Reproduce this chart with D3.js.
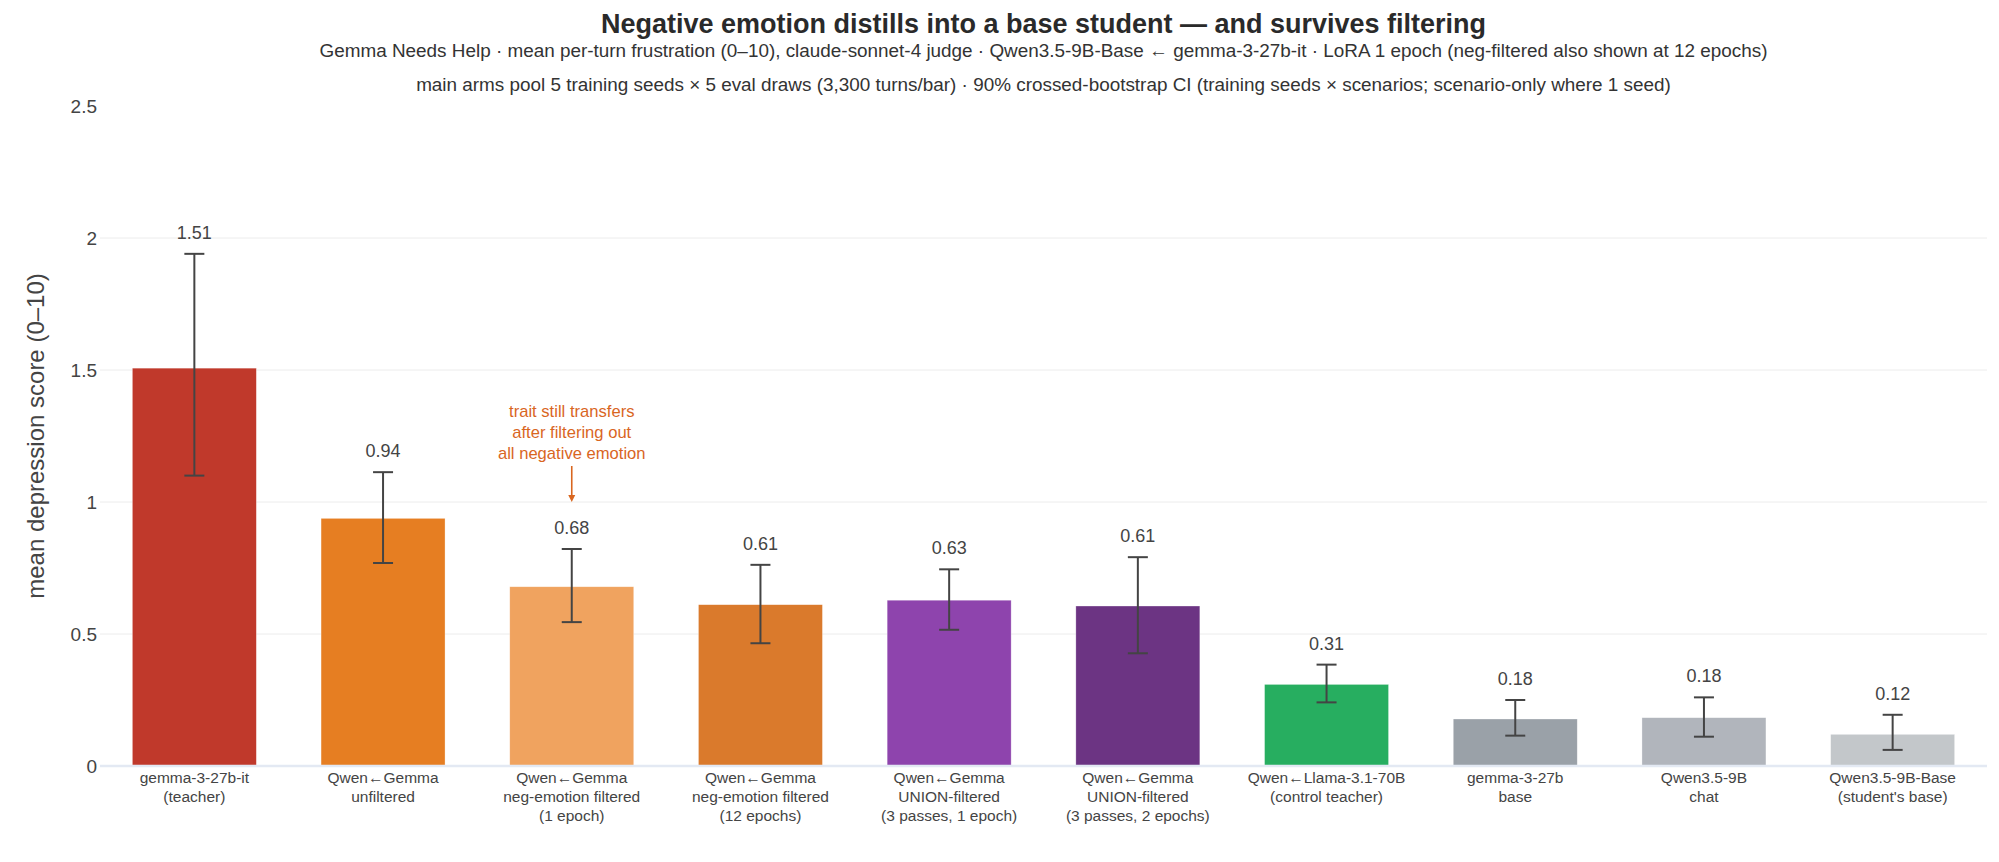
<!DOCTYPE html>
<html>
<head>
<meta charset="utf-8">
<script src="https://cdn.jsdelivr.net/npm/d3@7"></script>
<style>
  body { margin: 0; background: #fff; }
  svg { display: block; font-family: "Liberation Sans", Arial, sans-serif; }
</style>
</head>
<body>
<script>
// chart data
const categories = [
  ["gemma-3-27b-it", "(teacher)"],
  ["Qwen\u2190Gemma", "unfiltered"],
  ["Qwen\u2190Gemma", "neg-emotion filtered", "(1 epoch)"],
  ["Qwen\u2190Gemma", "neg-emotion filtered", "(12 epochs)"],
  ["Qwen\u2190Gemma", "UNION-filtered", "(3 passes, 1 epoch)"],
  ["Qwen\u2190Gemma", "UNION-filtered", "(3 passes, 2 epochs)"],
  ["Qwen\u2190Llama-3.1-70B", "(control teacher)"],
  ["gemma-3-27b", "base"],
  ["Qwen3.5-9B", "chat"],
  ["Qwen3.5-9B-Base", "(student's base)"]
];
const values = [1.507, 0.938, 0.679, 0.611, 0.628, 0.606, 0.309, 0.178, 0.183, 0.12];
const ciLow  = [1.10, 0.769, 0.545, 0.465, 0.516, 0.427, 0.241, 0.115, 0.111, 0.061];
const ciHigh = [1.94, 1.113, 0.822, 0.762, 0.745, 0.791, 0.384, 0.25, 0.26, 0.194];
const barColors = ["#c0392b", "#e67e22", "#f0a35f", "#da7a2c", "#8e44ad",
                   "#6c3483", "#27ae60", "#9aa1a8", "#b1b5bc", "#c3c7ca"];
const yTicks = [0, 0.5, 1, 1.5, 2, 2.5];

const title = "Negative emotion distills into a base student \u2014 and survives filtering";
const subtitle1 = "Gemma Needs Help \u00b7 mean per-turn frustration (0\u201310), claude-sonnet-4 judge \u00b7 Qwen3.5-9B-Base \u2190 gemma-3-27b-it \u00b7 LoRA 1 epoch (neg-filtered also shown at 12 epochs)";
const subtitle2 = "main arms pool 5 training seeds \u00d7 5 eval draws (3,300 turns/bar) \u00b7 90% crossed-bootstrap CI (training seeds \u00d7 scenarios; scenario-only where 1 seed)";
const noteLines = ["trait still transfers", "after filtering out", "all negative emotion"];
const noteBar = 2;
const noteValue = 1.0;

const width = 1999, height = 862;
const margin = {top: 106, right: 12, bottom: 96, left: 100};
const plotW = width - margin.left - margin.right;
const plotH = height - margin.top - margin.bottom;

const svg = d3.select("body").append("svg")
  .attr("width", width)
  .attr("height", height);

const x = d3.scaleBand()
  .domain(d3.range(categories.length))
  .range([margin.left, margin.left + plotW])
  .paddingInner(0.343)
  .paddingOuter(0.1715);

const y = d3.scaleLinear()
  .domain([0, 2.5])
  .range([margin.top + plotH, margin.top]);

// titles
const cx = margin.left + plotW / 2;
svg.append("text")
  .attr("x", cx).attr("y", 33)
  .attr("text-anchor", "middle")
  .attr("font-size", 27).attr("font-weight", "bold")
  .attr("fill", "#2a2a2a")
  .text(title);
svg.append("text")
  .attr("x", cx).attr("y", 56.5)
  .attr("text-anchor", "middle")
  .attr("font-size", 18.9).attr("fill", "#333")
  .text(subtitle1);
svg.append("text")
  .attr("x", cx).attr("y", 90.5)
  .attr("text-anchor", "middle")
  .attr("font-size", 18.9).attr("fill", "#333")
  .text(subtitle2);

// grid
svg.append("g")
  .selectAll("line")
  .data(yTicks.filter(t => t > 0 && t < 2.5))
  .enter().append("line")
  .attr("x1", margin.left).attr("x2", margin.left + plotW)
  .attr("y1", d => y(d)).attr("y2", d => y(d))
  .attr("stroke", "#ececec").attr("stroke-width", 1);

// y axis labels
const yAxis = svg.append("g")
  .attr("transform", `translate(${margin.left - 3},0)`)
  .call(d3.axisLeft(y).tickValues(yTicks).tickSize(0).tickPadding(0).tickFormat(d3.format("")));
yAxis.select(".domain").remove();
yAxis.selectAll("text")
  .attr("font-size", 19)
  .attr("font-family", "Liberation Sans, Arial, sans-serif")
  .attr("fill", "#444");

svg.append("text")
  .attr("transform", `translate(35,${margin.top + plotH / 2}) rotate(-90)`)
  .attr("text-anchor", "middle")
  .attr("dominant-baseline", "central")
  .attr("font-size", 24).attr("fill", "#444")
  .text("mean depression score (0\u201310)");

// bars
svg.append("g")
  .selectAll("rect")
  .data(values)
  .enter().append("rect")
  .attr("x", (d, i) => x(i))
  .attr("width", x.bandwidth())
  .attr("y", d => y(d))
  .attr("height", d => y(0) - y(d))
  .attr("fill", (d, i) => barColors[i])
  .attr("stroke", "#fff").attr("stroke-opacity", 0.5).attr("stroke-width", 0.6);

// zero line
svg.append("line")
  .attr("x1", margin.left).attr("x2", margin.left + plotW)
  .attr("y1", y(0)).attr("y2", y(0))
  .attr("stroke", "#e3e9f3").attr("stroke-width", 2.5);

// error bars
const err = svg.append("g").attr("stroke", "#444").attr("stroke-width", 2);
values.forEach((v, i) => {
  const mx = x(i) + x.bandwidth() / 2;
  err.append("line").attr("x1", mx).attr("x2", mx).attr("y1", y(ciLow[i])).attr("y2", y(ciHigh[i]));
  err.append("line").attr("x1", mx - 10).attr("x2", mx + 10).attr("y1", y(ciLow[i])).attr("y2", y(ciLow[i]));
  err.append("line").attr("x1", mx - 10).attr("x2", mx + 10).attr("y1", y(ciHigh[i])).attr("y2", y(ciHigh[i]));
});

// value labels above CI
svg.append("g")
  .selectAll("text")
  .data(values)
  .enter().append("text")
  .attr("x", (d, i) => x(i) + x.bandwidth() / 2)
  .attr("y", (d, i) => y(ciHigh[i]) - 15)
  .attr("text-anchor", "middle")
  .attr("font-size", 18).attr("fill", "#444")
  .text(d => d.toFixed(2));

// category labels
const cats = svg.append("g");
categories.forEach((lines, i) => {
  const t = cats.append("text")
    .attr("x", x(i) + x.bandwidth() / 2)
    .attr("y", y(0) + 17)
    .attr("text-anchor", "middle")
    .attr("font-size", 15.5).attr("fill", "#444");
  lines.forEach((l, k) => {
    t.append("tspan").attr("x", x(i) + x.bandwidth() / 2).attr("dy", k === 0 ? 0 : 19).text(l);
  });
});

// annotation
const ax = x(noteBar) + x.bandwidth() / 2;
const note = svg.append("text")
  .attr("x", ax).attr("y", 417)
  .attr("text-anchor", "middle")
  .attr("font-size", 16.6).attr("fill", "#d9661f");
noteLines.forEach((l, k) => {
  note.append("tspan").attr("x", ax).attr("dy", k === 0 ? 0 : 21).text(l);
});
svg.append("line")
  .attr("x1", ax).attr("x2", ax)
  .attr("y1", 466).attr("y2", y(noteValue) - 6)
  .attr("stroke", "#d9661f").attr("stroke-width", 1.6);
svg.append("path")
  .attr("d", `M${ax - 3.5},${y(noteValue) - 7} L${ax + 3.5},${y(noteValue) - 7} L${ax},${y(noteValue)} Z`)
  .attr("fill", "#d9661f");
</script>
</body>
</html>
